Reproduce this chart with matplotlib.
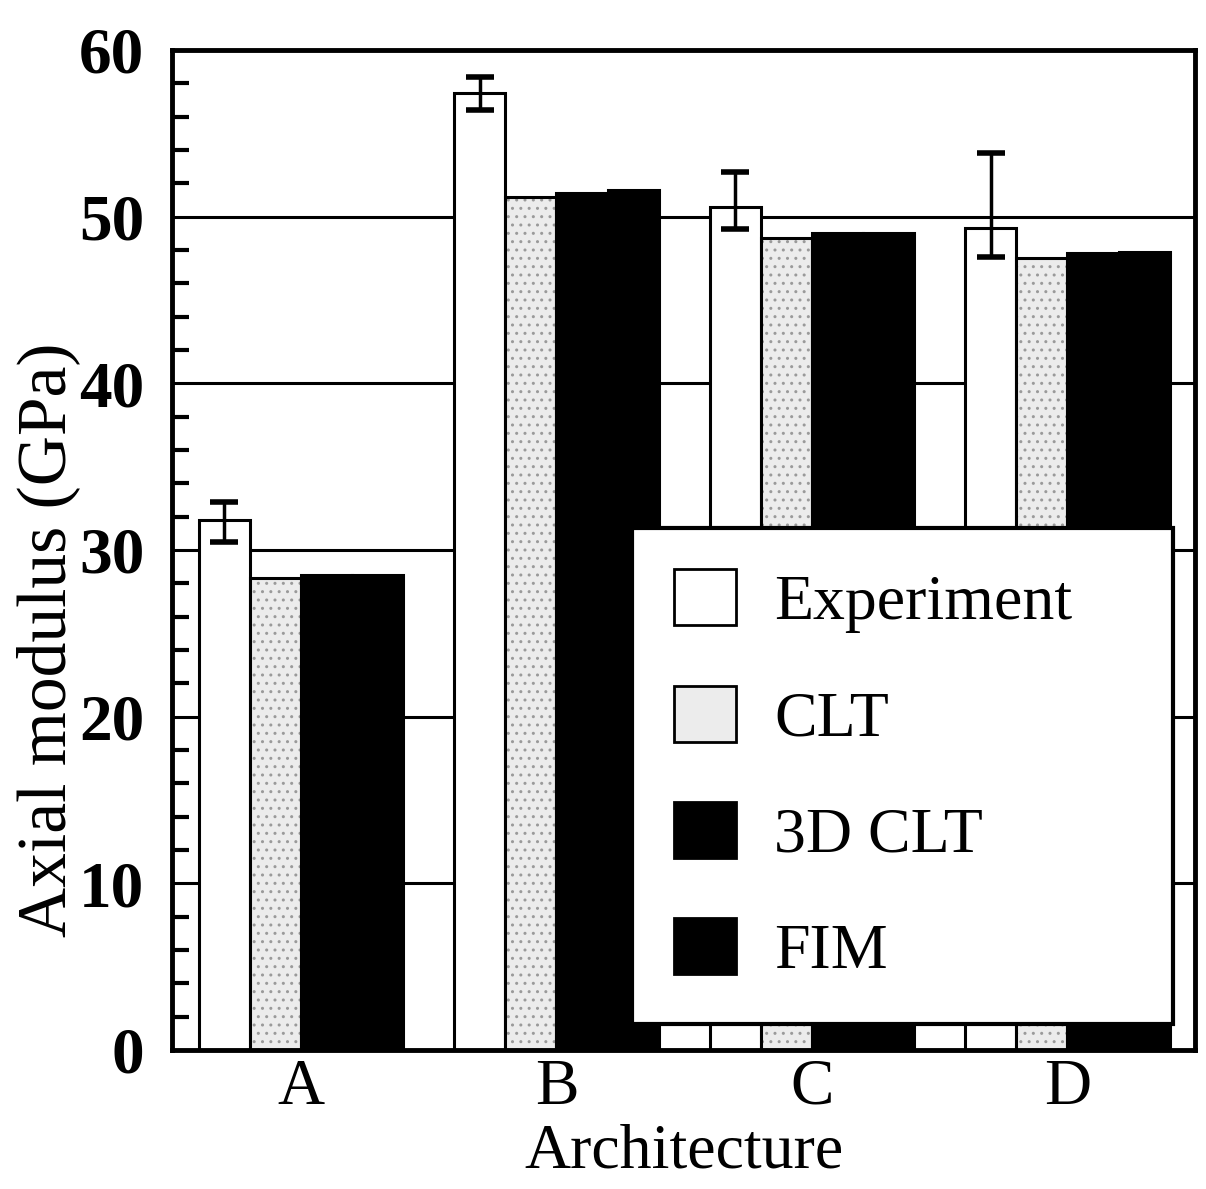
import matplotlib
matplotlib.use('Agg')
import matplotlib.pyplot as plt
from matplotlib.patches import Patch
import numpy as np

# data
architectures = ['A', 'B', 'C', 'D']
experiment = [31.8, 57.4, 50.6, 49.3]
exp_err_lo = [1.35, 1.0, 1.35, 1.7]
exp_err_hi = [1.1, 1.0, 2.1, 4.5]
clt = [28.3, 51.2, 48.7, 47.5]
clt_3d = [28.5, 51.4, 49.0, 47.8]
fim = [28.5, 51.6, 49.0, 47.9]
legend_labels = ['Experiment', 'CLT', '3D CLT', 'FIM']

plt.rcParams['font.family'] = ['Liberation Serif', 'DejaVu Serif']

fig = plt.figure(figsize=(12.06, 11.89), dpi=100)
ax = fig.add_axes([0.1426, 0.117, 0.8484, 0.841])

x = np.arange(len(architectures))
w = 0.2
lw = 2.2

# horizontal grid behind the bars
for yv in [10, 20, 30, 40, 50]:
    ax.axhline(yv, color='k', lw=2.2, zorder=0)

ax.bar(x - 1.5*w, experiment, w, color='white', edgecolor='k', lw=lw, zorder=2)
ax.bar(x - 0.5*w, clt, w, color='#ececec', edgecolor='#9a9a9a', hatch='..', lw=0, zorder=2)
ax.bar(x - 0.5*w, clt, w, color='none', edgecolor='k', lw=lw, zorder=3)
ax.bar(x + 0.5*w, clt_3d, w, color='k', edgecolor='k', lw=lw, zorder=2)
ax.bar(x + 1.5*w, fim, w, color='k', edgecolor='k', lw=lw, zorder=2)

ax.errorbar(x - 1.5*w, experiment, yerr=[exp_err_lo, exp_err_hi], fmt='none',
            ecolor='k', elinewidth=2.5, capsize=10, capthick=4, zorder=4)

ax.set_xlim(-0.505, 3.5)
ax.set_ylim(0, 60)
ax.set_xticks(x)
ax.set_xticklabels(architectures, fontsize=47)
ax.set_yticks(np.arange(0, 61, 10))
ax.set_yticklabels([str(v) for v in range(0, 61, 10)], fontsize=47, fontweight='bold')
ax.set_yticks(np.arange(2, 60, 2), minor=True)
ax.tick_params(axis='y', which='major', length=0, pad=20)
ax.tick_params(axis='y', which='minor', direction='in', length=12, width=3)
ax.tick_params(axis='x', length=0, pad=6)

for s in ax.spines.values():
    s.set_linewidth(3.5)

ax.set_ylabel('Axial modulus (GPa)', fontsize=50)
ax.yaxis.set_label_coords(-0.09, 0.41)
ax.set_xlabel('Architecture', fontsize=46, labelpad=4)

# legend
handles = [Patch(facecolor='white', edgecolor='k', lw=2),
           Patch(facecolor='#ececec', edgecolor='k', lw=2),
           Patch(facecolor='k', edgecolor='k', lw=2),
           Patch(facecolor='k', edgecolor='k', lw=2)]
leg = ax.legend(handles, legend_labels, loc='upper left',
                bbox_to_anchor=(0.45, 0.0, 0.528, 0.522), mode='expand',
                fontsize=46, frameon=True, fancybox=False, framealpha=1,
                edgecolor='k', handlelength=0.97, handleheight=0.97,
                handletextpad=0.6, labelspacing=0.82, borderpad=0.65,
                borderaxespad=0)
leg.get_frame().set_linewidth(3)
leg.set_zorder(10)

plt.savefig('out.png', dpi=100)
